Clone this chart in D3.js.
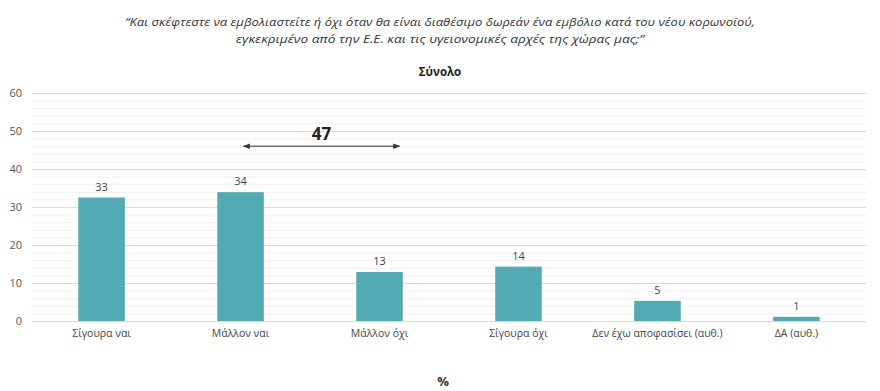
<!DOCTYPE html>
<html><head><meta charset="utf-8">
<script src="https://cdn.jsdelivr.net/npm/d3@7"></script>
<style>body{margin:0;background:#fff}svg{display:block}</style>
</head><body>
<svg id="c" width="880" height="391"></svg>
<script>
const categories = ["Σίγουρα ναι","Μάλλον ναι","Μάλλον όχι","Σίγουρα όχι","Δεν έχω αποφασίσει (αυθ.)","ΔΑ (αυθ.)"];
const values = [32.5, 33.9, 12.9, 14.3, 5.3, 1.1];
const valueLabels = ["33","34","13","14","5","1"];
const yTicks = [0,10,20,30,40,50,60];
const titleLines = ["\u201CΚαι σκέφτεστε να εμβολιαστείτε ή όχι όταν θα είναι διαθέσιμο δωρεάν ένα εμβόλιο κατά του νέου κορωνοϊού,","εγκεκριμένο από την Ε.Ε. και τις υγειονομικές αρχές της χώρας μας;\u201D"];
const subtitle = "Σύνολο";
const bracketFrom = "Μάλλον ναι", bracketTo = "Μάλλον όχι", bracketLabel = "47";
const unitLabel = "%";

const svg = d3.select("#c");
const x = d3.scaleBand().domain(categories).range([32,866]).paddingInner(0.665).paddingOuter(0.333);
const y = d3.scaleLinear().domain([0,60]).range([321,93]);
const font = "'Open Sans', sans-serif";

// minor grid
svg.append("g").selectAll("line").data(d3.range(0,61,2).filter(v=>v%10!==0)).join("line")
  .attr("x1",32).attr("x2",866).attr("y1",d=>y(d)+0.5).attr("y2",d=>y(d)+0.5)
  .attr("stroke","#f0f0f0").attr("stroke-width",1);
// major grid
svg.append("g").selectAll("line").data(yTicks).join("line")
  .attr("x1",32).attr("x2",866).attr("y1",d=>y(d)+0.5).attr("y2",d=>y(d)+0.5)
  .attr("stroke","#d9d9d9").attr("stroke-width",1);

const yAxis = svg.append("g").attr("transform","translate(22,0)")
  .call(d3.axisLeft(y).tickValues(yTicks).tickSize(0).tickPadding(0));
yAxis.select(".domain").remove();
yAxis.selectAll("text").attr("font-family",font).attr("font-size",11).attr("fill","#555");

svg.append("g").selectAll("rect").data(values).join("rect")
  .attr("x",(d,i)=>x(categories[i])).attr("width",x.bandwidth())
  .attr("y",d=>y(d)).attr("height",d=>y(0)-y(d)).attr("fill","#52aab2");

svg.append("g").selectAll("text").data(values).join("text")
  .attr("x",(d,i)=>x(categories[i])+x.bandwidth()/2).attr("y",d=>y(d)-7)
  .attr("text-anchor","middle").attr("font-family",font).attr("font-size",11).attr("fill","#444")
  .text((d,i)=>valueLabels[i]);

const xAxis = svg.append("g").attr("transform","translate(0,321)")
  .call(d3.axisBottom(x).tickSize(0).tickPadding(9));
xAxis.select(".domain").remove();
xAxis.selectAll("text").attr("font-family",font).attr("font-size",10.5).attr("fill","#444");

// bracket arrow
const ax1 = x(bracketFrom)+x.bandwidth()/2+3, ax2 = x(bracketTo)+x.bandwidth()/2+20;
const ay = y(46);
const defs = svg.append("defs");
defs.append("marker").attr("id","ah").attr("viewBox","0 0 10 10").attr("refX",9).attr("refY",5)
  .attr("markerWidth",7).attr("markerHeight",7).attr("orient","auto-start-reverse")
  .append("path").attr("d","M0,1L10,5L0,9Z").attr("fill","#333");
svg.append("line").attr("x1",ax1).attr("x2",ax2).attr("y1",ay).attr("y2",ay)
  .attr("stroke","#333").attr("stroke-width",1)
  .attr("marker-start","url(#ah)").attr("marker-end","url(#ah)");
svg.append("text").attr("x",(ax1+ax2)/2).attr("y",ay-6).attr("text-anchor","middle")
  .attr("font-family",font).attr("font-size",17).attr("font-weight","bold").attr("fill","#222").text(bracketLabel);

svg.append("g").selectAll("text").data(titleLines).join("text")
  .attr("x",440).attr("y",(d,i)=>26+i*17).attr("text-anchor","middle")
  .attr("font-family",font).attr("font-style","italic").attr("font-size",11.5).attr("fill","#333")
  .attr("textLength",(d,i)=>i===0?630:408).attr("lengthAdjust","spacingAndGlyphs")
  .text(d=>d);
svg.append("text").attr("x",440).attr("y",76).attr("text-anchor","middle")
  .attr("font-family",font).attr("font-weight","bold").attr("font-size",11.5).attr("fill","#222").text(subtitle);
svg.append("text").attr("x",443).attr("y",386).attr("text-anchor","middle")
  .attr("font-family",font).attr("font-weight","bold").attr("font-size",13).attr("fill","#333").text(unitLabel);
</script>
</body></html>
